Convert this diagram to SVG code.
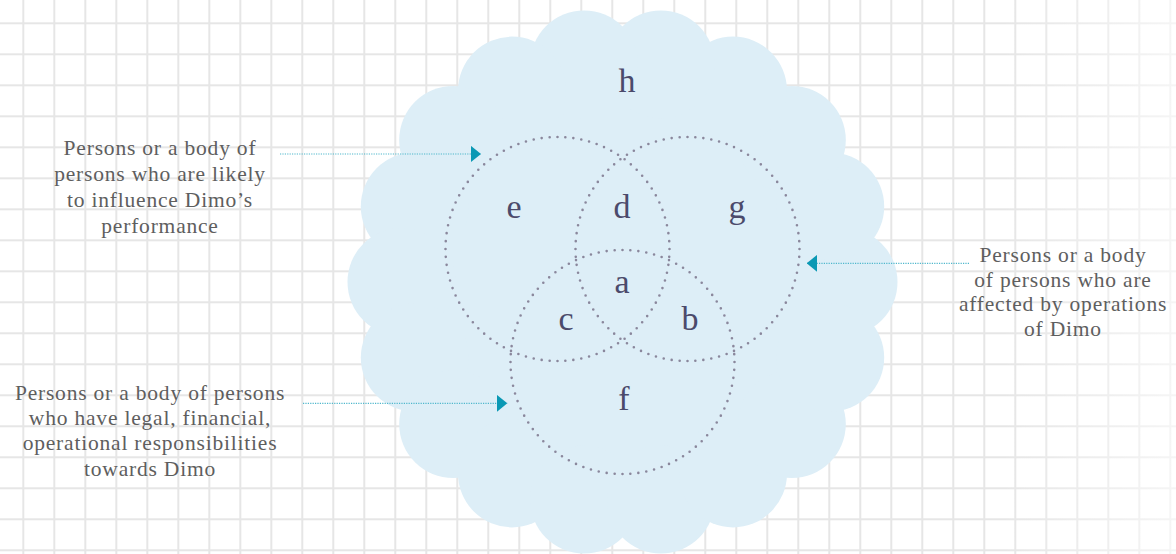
<svg xmlns="http://www.w3.org/2000/svg" width="1176" height="554" viewBox="0 0 1176 554">
  <style>
    .bump { fill: #ddeef7; }
    .venn { fill: none; stroke: #8a879c; stroke-width: 2.6; stroke-linecap: round; stroke-dasharray: 0 1; }
    .lbl { font-family: "Liberation Serif", "Times New Roman", serif; font-size: 34px; fill: #4b4a6b; text-anchor: middle; }
    .note { font-family: "Liberation Serif", "Times New Roman", serif; font-size: 21.5px; letter-spacing: 0.8px; fill: #5e5e5e; text-anchor: middle; }
    .lead { fill: none; stroke: #4fb7cc; stroke-width: 1.2; stroke-dasharray: 1.2 1.2; }
  </style>
  <defs>
    <pattern id="grid" patternUnits="userSpaceOnUse" x="22.3" y="22.3" width="31" height="31">
      <path d="M1 0V31M0 1H31" stroke="#e6e6e6" stroke-width="2" fill="none"/>
    </pattern>
    <linearGradient id="fadeR" x1="0" y1="0" x2="1" y2="0">
      <stop offset="0" stop-color="#ffffff" stop-opacity="0"/>
      <stop offset="1" stop-color="#ffffff" stop-opacity="0.6"/>
    </linearGradient>
    <marker id="tri" viewBox="0 0 10.5 17" markerWidth="10.5" markerHeight="17" refX="10.5" refY="8.5" markerUnits="userSpaceOnUse" orient="auto">
      <path d="M0 0L10.5 8.5L0 17Z" fill="#0a98b4"/>
    </marker>
  </defs>

  <g id="background">
    <rect width="1176" height="554" fill="#ffffff"/>
    <rect width="1176" height="554" fill="url(#grid)"/>
    <rect x="1000" y="0" width="176" height="554" fill="url(#fadeR)"/>
  </g>

  <g id="cloud-h">
    <circle class="bump" cx="622.5" cy="282" r="222"/>
    <circle class="bump" cx="843.5" cy="282" r="54"/>
    <circle class="bump" cx="830.2" cy="206.4" r="54"/>
    <circle class="bump" cx="791.8" cy="139.9" r="54"/>
    <circle class="bump" cx="733.0" cy="90.6" r="54"/>
    <circle class="bump" cx="660.9" cy="64.4" r="54"/>
    <circle class="bump" cx="584.1" cy="64.4" r="54"/>
    <circle class="bump" cx="512.0" cy="90.6" r="54"/>
    <circle class="bump" cx="453.2" cy="139.9" r="54"/>
    <circle class="bump" cx="414.8" cy="206.4" r="54"/>
    <circle class="bump" cx="401.5" cy="282" r="54"/>
    <circle class="bump" cx="414.8" cy="357.6" r="54"/>
    <circle class="bump" cx="453.2" cy="424.1" r="54"/>
    <circle class="bump" cx="512.0" cy="473.4" r="54"/>
    <circle class="bump" cx="584.1" cy="499.6" r="54"/>
    <circle class="bump" cx="660.9" cy="499.6" r="54"/>
    <circle class="bump" cx="733.0" cy="473.4" r="54"/>
    <circle class="bump" cx="791.8" cy="424.1" r="54"/>
    <circle class="bump" cx="830.2" cy="357.6" r="54"/>
  </g>

  <g id="circle-influence">
    <circle class="venn" cx="557.5" cy="249" r="112" pathLength="88"/>
  </g>
  <g id="circle-affected">
    <circle class="venn" cx="687.5" cy="249" r="112" pathLength="88"/>
  </g>
  <g id="circle-responsible">
    <circle class="venn" cx="622.5" cy="362" r="112" pathLength="88"/>
  </g>

  <g id="region-labels">
    <text class="lbl" x="627" y="92">h</text>
    <text class="lbl" x="514" y="218">e</text>
    <text class="lbl" x="622" y="218">d</text>
    <text class="lbl" x="737" y="218">g</text>
    <text class="lbl" x="622" y="293">a</text>
    <text class="lbl" x="566" y="330">c</text>
    <text class="lbl" x="690" y="330">b</text>
    <text class="lbl" x="624" y="410">f</text>
  </g>

  <g id="note-influence">
    <text class="note" x="160" y="155">Persons or a body of</text>
    <text class="note" x="160" y="181">persons who are likely</text>
    <text class="note" x="160" y="207">to influence Dimo’s</text>
    <text class="note" x="160" y="233">performance</text>
  </g>
  <g id="note-affected">
    <text class="note" x="1063" y="262">Persons or a body</text>
    <text class="note" x="1063" y="287">of persons who are</text>
    <text class="note" x="1063" y="311">affected by operations</text>
    <text class="note" x="1063" y="336">of Dimo</text>
  </g>
  <g id="note-responsible">
    <text class="note" x="150" y="400">Persons or a body of persons</text>
    <text class="note" x="150" y="425">who have legal, financial,</text>
    <text class="note" x="150" y="450">operational responsibilities</text>
    <text class="note" x="150" y="476">towards Dimo</text>
  </g>

  <g id="connectors">
    <line class="lead" x1="280" y1="154" x2="481" y2="154" marker-end="url(#tri)"/>
    <line class="lead" x1="969" y1="263.3" x2="806.7" y2="263.3" marker-end="url(#tri)"/>
    <line class="lead" x1="303" y1="403.3" x2="507.3" y2="403.3" marker-end="url(#tri)"/>
  </g>
</svg>
